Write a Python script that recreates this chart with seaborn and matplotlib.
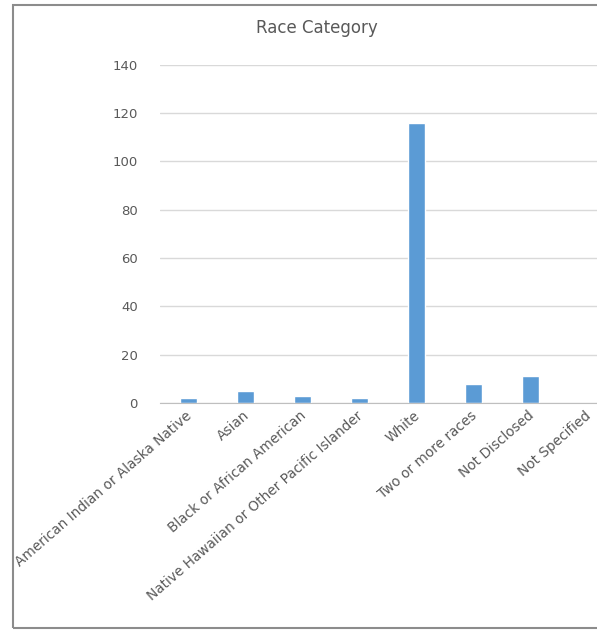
import matplotlib
matplotlib.use("Agg")
import matplotlib.pyplot as plt
import seaborn as sns
import pandas as pd
from matplotlib.patches import Rectangle

categories = ["American Indian or Alaska Native", "Asian", "Black or African American",
              "Native Hawaiian or Other Pacific Islander", "White", "Two or more races",
              "Not Disclosed", "Not Specified"]
counts = [2, 5, 3, 2, 116, 8, 11, 0]
yticks = [0, 20, 40, 60, 80, 100, 120, 140]

sns.set_style("white")
plt.rcParams['font.family'] = ['DejaVu Sans']

df = pd.DataFrame({"cat": categories, "count": counts})

fig = plt.figure(figsize=(5.97, 6.3), dpi=100)
ax = fig.add_axes([160/597, 1-403/630, 456/597, (403-64.5)/630])
sns.barplot(data=df, x="cat", y="count", color="#5B9BD5", width=0.3, ax=ax, saturation=1)
ax.set_ylim(0, 140)
ax.set_xlim(-0.5, 7.5)
ax.set_yticks(yticks)
ax.set_yticklabels([str(t) for t in yticks], fontsize=9.5, color="#595959")
ax.yaxis.grid(True, color="#D9D9D9", linewidth=1)
ax.set_axisbelow(True)
for s in ["top", "right", "left"]:
    ax.spines[s].set_visible(False)
ax.spines["bottom"].set_color("#BFBFBF")
ax.tick_params(axis="y", length=0, pad=16)
ax.tick_params(axis="x", length=0, pad=4)
ax.set_xlabel("")
ax.set_ylabel("")
ax.set_xticks(range(len(categories)))
ax.set_xticklabels(categories, rotation=41, ha="right", va="top", rotation_mode="anchor",
                   fontsize=9.8, color="#595959")
for lbl in ax.get_xticklabels():
    lbl.set_transform(lbl.get_transform() + matplotlib.transforms.ScaledTranslation(-3/100, 0, fig.dpi_scale_trans))

fig.text(317/597, 1-28/630, "Race Category", ha="center", va="center", fontsize=12, color="#595959")
fig.patches.append(Rectangle((13/597, 2/630), 1.0, 623/630, transform=fig.transFigure,
                             fill=False, edgecolor="#8C8C8C", linewidth=1.5))
fig.savefig("out.png", dpi=100)
